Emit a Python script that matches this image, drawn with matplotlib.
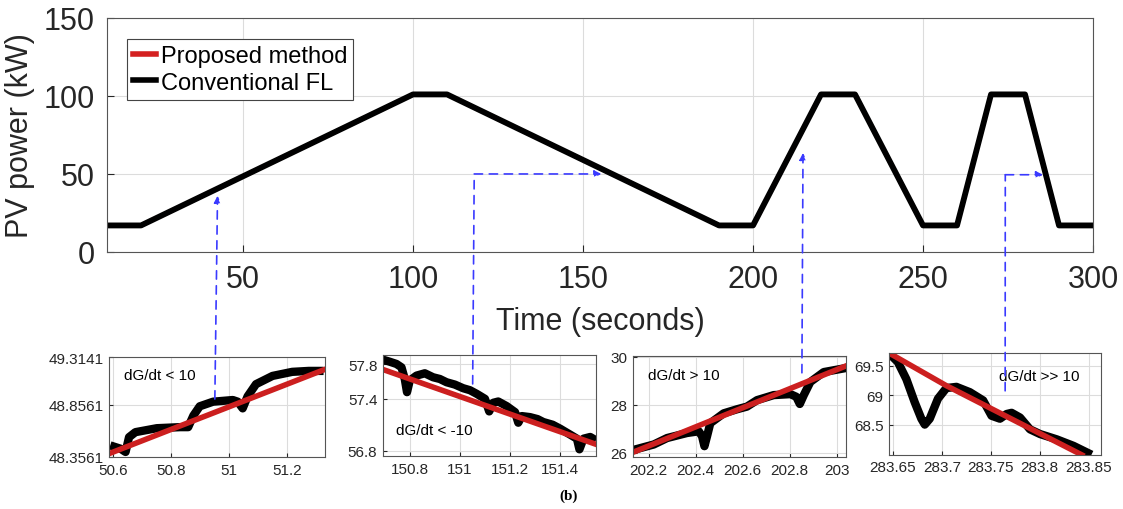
import matplotlib
matplotlib.use('Agg')
import matplotlib.pyplot as plt
from matplotlib.patches import ConnectionPatch

plt.rcParams['font.family'] = ['Liberation Sans', 'DejaVu Sans']

# main PV power profile
t_main = [10, 20, 100, 110, 190, 200, 220, 230, 250, 260, 270, 280, 290, 300]
p_main = [17, 17, 101, 101, 17, 17, 101, 101, 17, 17, 101, 101, 17, 17]

# zoom 1 (dG/dt < 10)
z1_t = [50.589, 50.625, 50.642, 50.654, 50.676, 50.75, 50.83, 50.858, 50.876, 50.898, 50.944,
        51.012, 51.029, 51.046, 51.063, 51.092, 51.149, 51.217, 51.274, 51.325]
z1_conv = [48.467, 48.435, 48.404, 48.546, 48.594, 48.632, 48.642, 48.642, 48.753, 48.842, 48.886,
           48.902, 48.886, 48.822, 48.937, 49.054, 49.133, 49.172, 49.181, 49.181]
z1_prop_t = [50.585, 51.331]
z1_prop = [48.388, 49.197]

# zoom 2 (dG/dt < -10)
z2_t = [150.693, 150.72, 150.747, 150.767, 150.78, 150.789, 150.8, 150.827, 150.86, 150.893,
        150.92, 150.947, 150.98, 151.013, 151.04, 151.067, 151.1, 151.117, 151.133, 151.153,
        151.187, 151.22, 151.233, 151.247, 151.28, 151.31, 151.333, 151.37, 151.4, 151.44,
        151.467, 151.477, 151.493, 151.52, 151.543]
z2_conv = [57.854, 57.83, 57.804, 57.765, 57.631, 57.477, 57.612, 57.669, 57.696, 57.65,
           57.63, 57.592, 57.565, 57.523, 57.5, 57.458, 57.4, 57.254, 57.354, 57.369,
           57.315, 57.246, 57.123, 57.2, 57.188, 57.165, 57.131, 57.1, 57.054, 56.985,
           56.938, 56.815, 56.938, 56.958, 56.919]
z2_prop_t = [150.687, 151.547]
z2_prop = [57.746, 56.869]

# zoom 3 (dG/dt > 10)
z3_t = [202.133, 202.221, 202.278, 202.363, 202.413, 202.427, 202.437, 202.448, 202.462, 202.519,
        202.576, 202.618, 202.661, 202.732, 202.803, 202.828, 202.843, 202.86, 202.888, 202.945, 203.04]
z3_conv = [26.11, 26.34, 26.61, 26.82, 26.89, 26.68, 26.27, 26.68, 27.23, 27.64,
           27.81, 27.92, 28.19, 28.4, 28.44, 28.33, 28.03, 28.4, 28.95, 29.36, 29.53]
z3_prop_t = [202.129, 203.043]
z3_prop = [26.0, 29.63]

# zoom 4 (dG/dt >> 10)
z4_t = [283.6466, 283.655, 283.6637, 283.6722, 283.679, 283.6825, 283.6876, 283.696, 283.7046,
        283.7149, 283.7286, 283.7422, 283.7508, 283.7594, 283.7662, 283.7713, 283.7799, 283.7901,
        283.8004, 283.8175, 283.8346, 283.853]
z4_conv = [69.70, 69.56, 69.27, 68.88, 68.60, 68.50, 68.60, 68.94, 69.12,
           69.14, 69.05, 68.91, 68.65, 68.60, 68.68, 68.70, 68.62, 68.42,
           68.34, 68.25, 68.14, 67.99]
z4_prop_t = [283.6459, 283.7046, 283.8432]
z4_prop = [69.715, 69.16, 67.986]

fig = plt.figure(figsize=(11.23, 5.10), dpi=100)
dark = '#262626'
grid_c = '#dcdcdc'
blue = '#3a3aff'

ax = fig.add_axes([0.0953, 0.504, 0.878, 0.4588])
ax.plot(t_main, p_main, color='#d42020', lw=3, label='Proposed method')
ax.plot(t_main, p_main, color='black', lw=4.2, label='Conventional FL')
ax.set_xlim(10, 300)
ax.set_ylim(0, 150)
ax.set_xticks([50, 100, 150, 200, 250, 300])
ax.set_yticks([0, 50, 100, 150])
ax.grid(True, color=grid_c, lw=0.8)
ax.tick_params(direction='in', labelsize=22, colors=dark, length=5, pad=9)
for s in ax.spines.values():
    s.set_color('#555555')
ax.set_xlabel('Time (seconds)', fontsize=22, color=dark, labelpad=8)
ax.set_ylabel('PV power (kW)', fontsize=22, color=dark, labelpad=6)
leg = ax.legend(loc='upper left', fontsize=17, handlelength=1.0, handletextpad=0.2,
                borderpad=0.25, labelspacing=0.2, fancybox=False, framealpha=1,
                bbox_to_anchor=(0.008, 0.96))
leg.get_frame().set_edgecolor('#444444')
leg.get_frame().set_linewidth(0.8)
for h in leg.get_lines():
    h.set_linewidth(4)

insets = [
    ([0.0971, 0.102, 0.1923, 0.196], z1_t, z1_conv, z1_prop_t, z1_prop, (50.585, 51.33),
     (48.3561, 49.3141), [50.6, 50.8, 51, 51.2], ['50.6', '50.8', '51', '51.2'],
     [48.3561, 48.8561, 49.3141], ['48.3561', '48.8561', '49.3141'], 'dG/dt < 10', (0.07, 0.78)),
    ([0.341, 0.104, 0.1897, 0.198], z2_t, z2_conv, z2_prop_t, z2_prop, (150.693, 151.543),
     (56.738, 57.908), [150.8, 151, 151.2, 151.4], ['150.8', '151', '151.2', '151.4'],
     [56.8, 57.4, 57.8], ['56.8', '57.4', '57.8'], 'dG/dt < -10', (0.06, 0.22)),
    ([0.5637, 0.102, 0.1897, 0.198], z3_t, z3_conv, z3_prop_t, z3_prop, (202.133, 203.04),
     (25.82, 30.03), [202.2, 202.4, 202.6, 202.8, 203], ['202.2', '202.4', '202.6', '202.8', '203'],
     [26, 28, 30], ['26', '28', '30'], 'dG/dt > 10', (0.07, 0.77)),
    ([0.7916, 0.106, 0.1888, 0.2], z4_t, z4_conv, z4_prop_t, z4_prop, (283.6459, 283.8627),
     (67.986, 69.715), [283.65, 283.7, 283.75, 283.8, 283.85],
     ['283.65', '283.7', '283.75', '283.8', '283.85'],
     [68.5, 69, 69.5], ['68.5', '69', '69.5'], 'dG/dt >> 10', (0.52, 0.73)),
]

zaxes = []
for pos, xt, yc, xp, yp, xl, yl, xtk, xtl, ytk, ytl, txt, tpos in insets:
    a = fig.add_axes(pos)
    a.plot(xt, yc, color='black', lw=6, solid_joinstyle='round', solid_capstyle='butt')
    a.plot(xp, yp, color='#cc1f1f', lw=4)
    a.set_xlim(*xl)
    a.set_ylim(*yl)
    a.set_xticks(xtk)
    a.set_xticklabels(xtl)
    a.set_yticks(ytk)
    a.set_yticklabels(ytl)
    a.grid(True, color=grid_c, lw=0.8)
    a.tick_params(direction='in', labelsize=11, colors=dark, length=3, pad=4)
    for s in a.spines.values():
        s.set_color('#555555')
    a.text(tpos[0], tpos[1], txt, transform=a.transAxes, fontsize=11, color='black')
    zaxes.append(a)

# connecting arrows: (inset point, corner on main, arrow end on main)
links = [
    (0, (50.95, 48.911), None, (42.5, 36)),
    (1, (151.051, 57.573), (118.0, 50), (155.4, 50)),
    (2, (202.852, 29.33), None, (214.7, 63.5)),
    (3, (283.7647, 69.073), (274.2, 49.5), (285.3, 49.5)),
]
for idx, p_in, corner, p_end in links:
    a = zaxes[idx]
    if corner is None:
        con = ConnectionPatch(xyA=p_in, coordsA=a.transData, xyB=p_end, coordsB=ax.transData,
                              arrowstyle='-|>', mutation_scale=10, color=blue, lw=1.2,
                              linestyle=(0, (5, 4)))
        fig.add_artist(con)
    else:
        con = ConnectionPatch(xyA=p_in, coordsA=a.transData, xyB=corner, coordsB=ax.transData,
                              color=blue, lw=1.2, linestyle=(0, (5, 4)))
        fig.add_artist(con)
        con2 = ConnectionPatch(xyA=corner, coordsA=ax.transData, xyB=p_end, coordsB=ax.transData,
                               arrowstyle='-|>', mutation_scale=10, color=blue, lw=1.2,
                               linestyle=(0, (5, 4)))
        fig.add_artist(con2)

fig.text(0.506, 0.02, '(b)', fontsize=11, fontweight='bold', family='Liberation Serif',
         ha='center')

fig.savefig('out.png', dpi=100)
